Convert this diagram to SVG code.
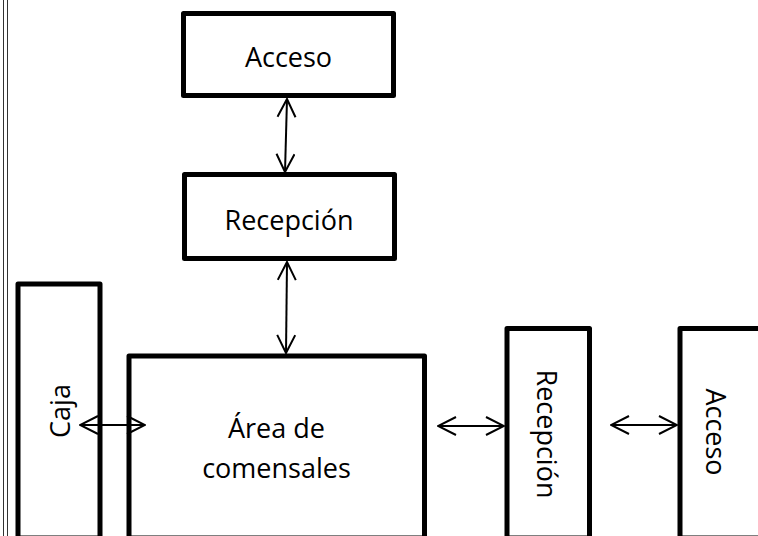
<svg xmlns="http://www.w3.org/2000/svg" width="758" height="536" viewBox="0 0 758 536">
  <style>
    .box { fill: #ffffff; stroke: #000000; stroke-width: 5; stroke-linejoin: round; }
    .lbl { font-family: "Open Sans", "Noto Sans", "DejaVu Sans", sans-serif; font-size: 27px; fill: #000000; text-anchor: middle; }
    .conn { stroke: #000000; stroke-width: 2; fill: none; marker-start: url(#head); marker-end: url(#head); }
    .border { stroke: #333333; stroke-width: 1; }
  </style>
  <defs>
    <marker id="head" viewBox="0 0 20 20" refX="19" refY="10" markerWidth="20" markerHeight="20" markerUnits="userSpaceOnUse" orient="auto-start-reverse">
      <path d="M1,1 L19,10 L1,19" fill="none" stroke="#000000" stroke-width="2"/>
    </marker>
  </defs>
  <rect width="758" height="536" fill="#ffffff"/>
  <line class="border" x1="3.5" y1="0" x2="3.5" y2="536"/>
  <line class="border" x1="7.5" y1="0" x2="7.5" y2="536"/>

  <g id="acceso-top">
    <rect class="box" x="183.5" y="13.5" width="210" height="82"/>
    <text class="lbl" x="288.5" y="67">Acceso</text>
  </g>
  <g id="recepcion-top">
    <rect class="box" x="184.5" y="174.5" width="210" height="84"/>
    <text class="lbl" x="289" y="230">Recepción</text>
  </g>
  <g id="caja">
    <rect class="box" x="18" y="284" width="82" height="254"/>
    <text class="lbl" transform="translate(70,411) rotate(-90)">Caja</text>
  </g>
  <g id="area-comensales">
    <rect class="box" x="129" y="356" width="295.5" height="182"/>
    <text class="lbl" x="276.5" y="438">Área de</text>
    <text class="lbl" x="276.5" y="478">comensales</text>
  </g>
  <g id="recepcion-right">
    <rect class="box" x="507" y="328.5" width="82.5" height="209.5"/>
    <text class="lbl" transform="translate(537,434) rotate(90)">Recepción</text>
  </g>
  <g id="acceso-right">
    <rect class="box" x="680" y="328.5" width="120" height="209.5"/>
    <text class="lbl" transform="translate(706,432) rotate(90)">Acceso</text>
  </g>

  <g id="connectors">
    <line class="conn" x1="287" y1="99" x2="285" y2="172"/>
    <line class="conn" x1="287" y1="262" x2="286" y2="353"/>
    <line class="conn" x1="80" y1="425" x2="145" y2="425"/>
    <line class="conn" x1="438" y1="426" x2="504" y2="426"/>
    <line class="conn" x1="611" y1="425" x2="677" y2="425"/>
  </g>
</svg>
